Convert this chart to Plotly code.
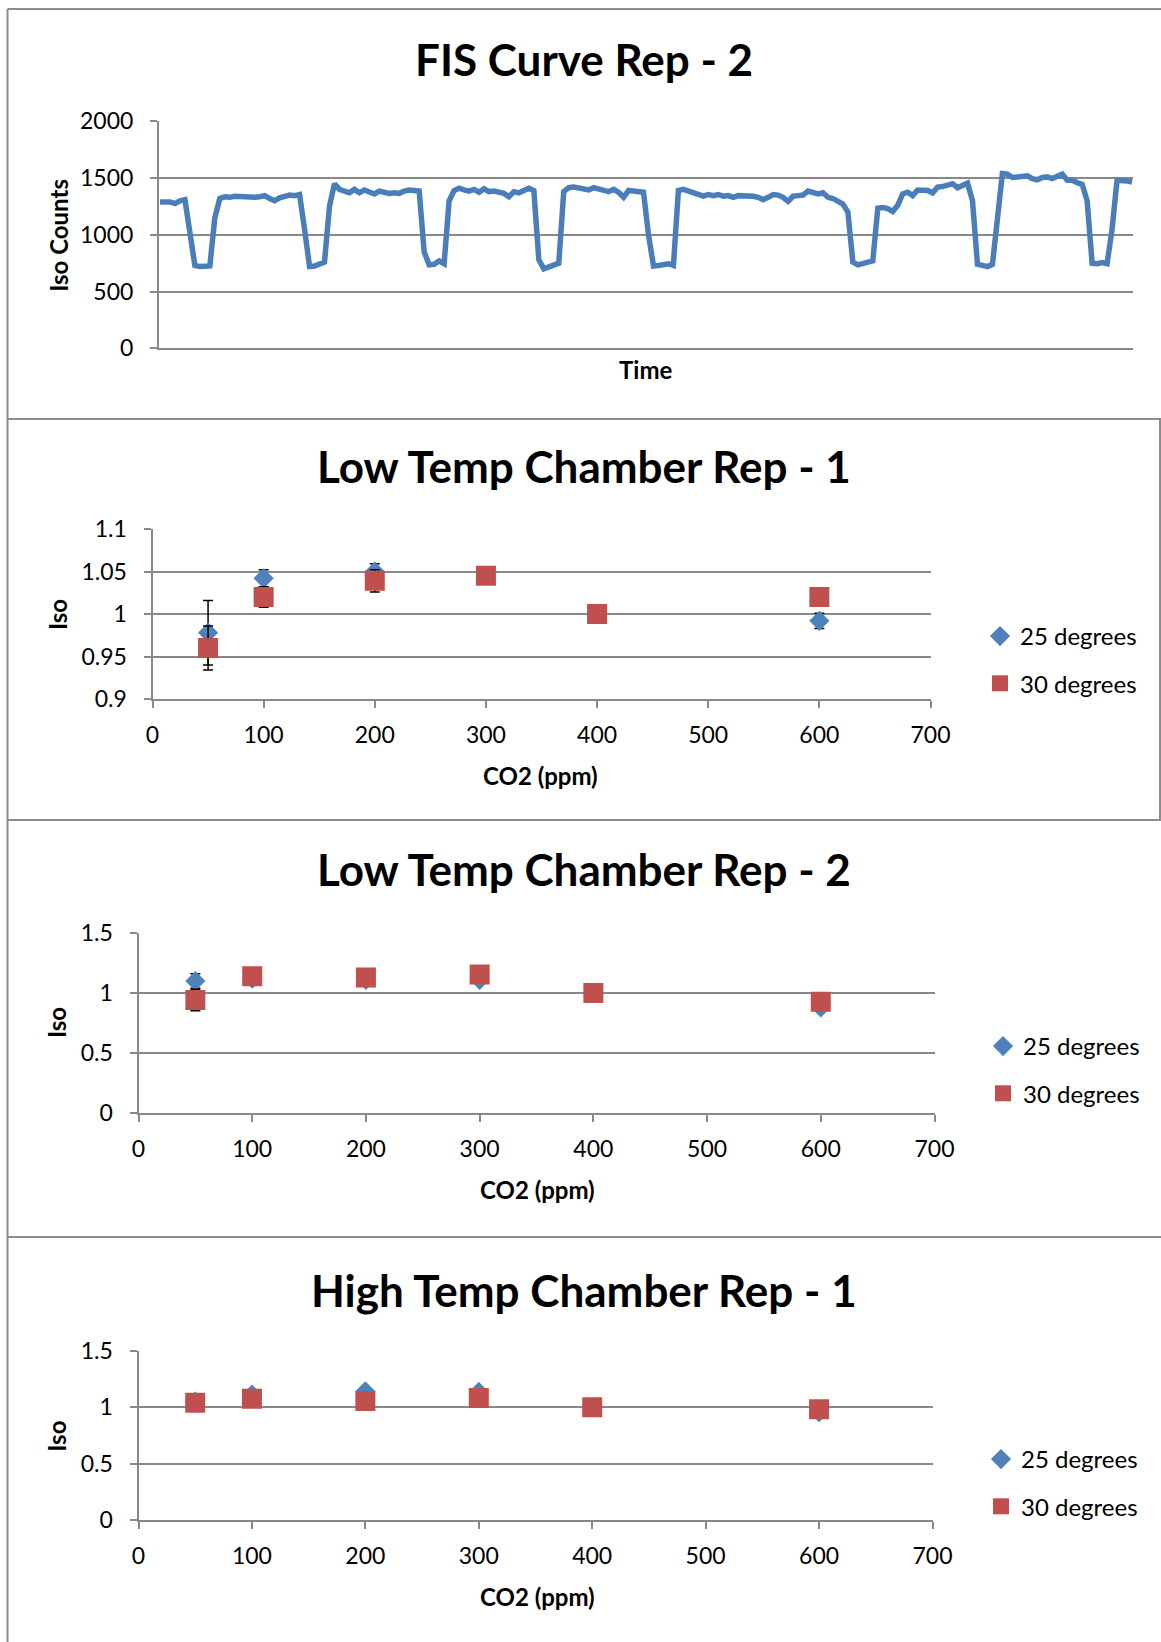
import plotly.graph_objects as go

W, H = 1161, 1642

# ---------------- data ----------------
# FIS curve: Iso counts sampled along time
time_counts = [
    1290, 1295, 1290, 1275, 1300, 1310, 1050, 730, 720, 725,
    725, 1150, 1320, 1335, 1330, 1340, 1335, 1330, 1325, 1330,
    1335, 1345, 1320, 1300, 1325, 1335, 1350, 1345, 1355, 1050,
    720, 725, 740, 760, 1250, 1450, 1400, 1390, 1370, 1400,
    1370, 1395, 1380, 1360, 1385, 1375, 1365, 1370, 1365, 1385,
    1395, 1390, 1385, 850, 735, 740, 770, 745, 1300, 1390,
    1410, 1395, 1385, 1400, 1375, 1405, 1380, 1385, 1380, 1365,
    1335, 1380, 1370, 1395, 1410, 1390, 780, 700, 720, 735,
    750, 1380, 1415, 1420, 1410, 1405, 1395, 1415, 1400, 1390,
    1380, 1400, 1375, 1330, 1390, 1385, 1380, 1375, 1000, 725,
    730, 740, 745, 730, 1390, 1400, 1385, 1370, 1360, 1340,
    1355, 1345, 1355, 1340, 1345, 1330, 1345, 1345, 1350, 1340,
    1330, 1310, 1330, 1355, 1350, 1330, 1295, 1340, 1345, 1350,
    1385, 1370, 1360, 1370, 1330, 1320, 1295, 1270, 1200, 760,
    735, 745, 750, 770, 1235, 1240, 1230, 1205, 1260, 1360,
    1375, 1345, 1395, 1395, 1390, 1370, 1420, 1425, 1440, 1450,
    1415, 1440, 1455, 1300, 740, 730, 720, 740, 1200, 1540,
    1535, 1505, 1510, 1520, 1520, 1495, 1485, 1505, 1510, 1495,
    1520, 1535, 1480, 1480, 1460, 1445, 1300, 750, 745, 755,
    745, 1050, 1480, 1480, 1475, 1465,
]
time_index = list(range(len(time_counts)))

co2_ppm = [50, 100, 200, 300, 400, 600]

# Low Temp Chamber Rep - 1
low1_25 = [0.978, 1.042, 1.050, None, 1.000, 0.992]
low1_25_err = [0.038, 0.010, 0.009, 0, 0, 0.009]
low1_30 = [0.960, 1.020, 1.039, 1.045, 1.000, 1.020]
low1_30_err = [0.026, 0.012, 0.013, 0, 0, 0]

# Low Temp Chamber Rep - 2
low2_25 = [1.100, 1.120, 1.110, 1.110, 1.000, 0.880]
low2_25_err = [0.06, 0, 0, 0, 0, 0]
low2_30 = [0.942, 1.140, 1.130, 1.155, 1.000, 0.928]
low2_30_err = [0.09, 0, 0, 0, 0, 0]

# High Temp Chamber Rep - 1
high1_25 = [1.050, 1.113, 1.142, 1.137, 1.000, 0.956]
high1_30 = [1.040, 1.076, 1.057, 1.083, 1.000, 0.982]

series_names = ["25 degrees", "30 degrees"]
titles = ["FIS Curve Rep - 2", "Low Temp Chamber Rep - 1",
          "Low Temp Chamber Rep - 2", "High Temp Chamber Rep - 1"]

# ---------------- style ----------------
BLUE = "#4F81BD"
RED = "#C0504D"
LINE_BLUE = "#4A7EBB"
GRID = "#898989"
FONT = "Lato"


def px(x):
    return x / W


def py(y):
    return 1 - y / H


fig = go.Figure()

fig.add_trace(go.Scatter(
    x=time_index, y=time_counts, mode="lines",
    line=dict(color=LINE_BLUE, width=5.5),
    xaxis="x", yaxis="y", showlegend=False, hoverinfo="skip"))


def add_pair(y25, y30, e25, e30, xa, ya, leg, grp):
    fig.add_trace(go.Scatter(
        x=co2_ppm, y=y25, mode="markers", name=series_names[0],
        marker=dict(symbol="diamond", size=15.5, color=BLUE, line=dict(width=0)),
        error_y=dict(type="data", array=e25, visible=e25 is not None,
                     color="black", thickness=1.5, width=5),
        xaxis=xa, yaxis=ya, legend=leg, legendgroup=grp + "a"))
    fig.add_trace(go.Scatter(
        x=co2_ppm, y=y30, mode="markers", name=series_names[1],
        marker=dict(symbol="square", size=20, color=RED, line=dict(width=0)),
        error_y=dict(type="data", array=e30, visible=e30 is not None,
                     color="black", thickness=1.5, width=5),
        xaxis=xa, yaxis=ya, legend=leg, legendgroup=grp + "b"))


add_pair(low1_25, low1_30, low1_25_err, low1_30_err, "x2", "y2", "legend", "p2")
add_pair(low2_25, low2_30, low2_25_err, low2_30_err, "x3", "y3", "legend2", "p3")
add_pair(high1_25, high1_30, None, None, "x4", "y4", "legend3", "p4")

tick_font = dict(family=FONT, size=23, color="black")

common_y = dict(showgrid=True, gridcolor=GRID, gridwidth=2, showline=True,
                linecolor=GRID, linewidth=2, ticks="outside", ticklen=7,
                tickcolor=GRID, tickwidth=2, zeroline=False, tickfont=tick_font,
                ticklabelstandoff=12, fixedrange=True, automargin=False)
common_x = dict(showgrid=False, showline=True, linecolor=GRID, linewidth=2,
                ticks="outside", ticklen=7, tickcolor=GRID, tickwidth=2,
                zeroline=False, tickfont=tick_font, range=[0, 700], dtick=100,
                tick0=0, ticklabelstandoff=7, fixedrange=True, automargin=False)

layout = dict(
    width=W, height=H,
    margin=dict(l=0, r=0, t=0, b=0, pad=0, autoexpand=False),
    paper_bgcolor="white", plot_bgcolor="white",
    font=dict(family=FONT, color="black"),
    xaxis=dict(domain=[px(159), px(1133)], range=[-0.2, len(time_counts) - 0.8],
               showgrid=False, showline=True, linecolor=GRID, linewidth=2,
               showticklabels=False, ticks="", zeroline=False, anchor="y",
               fixedrange=True, automargin=False),
    yaxis=dict(domain=[py(348.3), py(121.3)], range=[0, 2000], dtick=500,
               anchor="x", **common_y),
    xaxis2=dict(domain=[px(152.5), px(930.5)], anchor="y2", **common_x),
    yaxis2=dict(domain=[py(699), py(529)], range=[0.9, 1.1], dtick=0.05,
                tick0=0.9, anchor="x2", **common_y),
    xaxis3=dict(domain=[px(138.5), px(934.5)], anchor="y3", **common_x),
    yaxis3=dict(domain=[py(1113), py(933)], range=[0, 1.5], dtick=0.5,
                anchor="x3", **common_y),
    xaxis4=dict(domain=[px(138.5), px(932.5)], anchor="y4", **common_x),
    yaxis4=dict(domain=[py(1520), py(1351)], range=[0, 1.5], dtick=0.5,
                anchor="x4", **common_y),
)

leg_common = dict(xanchor="left", yanchor="top", bgcolor="rgba(0,0,0,0)",
                  font=dict(family=FONT, size=24, color="black"),
                  tracegroupgap=13, itemclick=False, itemdoubleclick=False)
layout["legend"] = dict(x=px(980), y=py(614), **leg_common)
layout["legend2"] = dict(x=px(983), y=py(1024), **leg_common)
layout["legend3"] = dict(x=px(981), y=py(1437), **leg_common)

fig.update_layout(**layout)

# chart titles
title_y = [59, 466, 869.5, 1290]
for t, yy in zip(titles, title_y):
    fig.add_annotation(x=px(584), y=py(yy), xref="paper", yref="paper",
                       text="<b>%s</b>" % t, showarrow=False,
                       font=dict(family=FONT, size=44, color="black"),
                       xanchor="center", yanchor="middle")

# axis titles
axis_titles = [
    ("Time", 645.6, 369, 0),
    ("Iso Counts", 57.8, 235, -90),
    ("CO2 (ppm)", 540.5, 775.5, 0),
    ("Iso", 57, 615, -90),
    ("CO2 (ppm)", 537, 1189, 0),
    ("Iso", 57, 1023, -90),
    ("CO2 (ppm)", 537, 1596, 0),
    ("Iso", 57, 1436.7, -90),
]
for t, xx, yy, ang in axis_titles:
    fig.add_annotation(x=px(xx), y=py(yy), xref="paper", yref="paper",
                       text="<b>%s</b>" % t, showarrow=False, textangle=ang,
                       font=dict(family=FONT, size=24, color="black"),
                       xanchor="center", yanchor="middle")

# chart-area borders (kept inside the paper)
BORDER = "#8c8c8c"
hlines = [9, 419, 820, 1237]
for yy in hlines:
    fig.add_shape(type="line", xref="paper", yref="paper",
                  x0=px(7.5), x1=1, y0=py(yy), y1=py(yy),
                  line=dict(color=BORDER, width=2), layer="below")
fig.add_shape(type="line", xref="paper", yref="paper",
              x0=px(7.5), x1=px(7.5), y0=0, y1=py(9),
              line=dict(color=BORDER, width=2), layer="below")
fig.add_shape(type="line", xref="paper", yref="paper",
              x0=px(1160), x1=px(1160), y0=py(820), y1=py(419),
              line=dict(color=BORDER, width=2), layer="below")

fig.write_html(
    "out.html",
    config={"displayModeBar": False},
    post_script=("document.body.style.margin='0';"
                 "document.body.style.padding='0';"),
)
